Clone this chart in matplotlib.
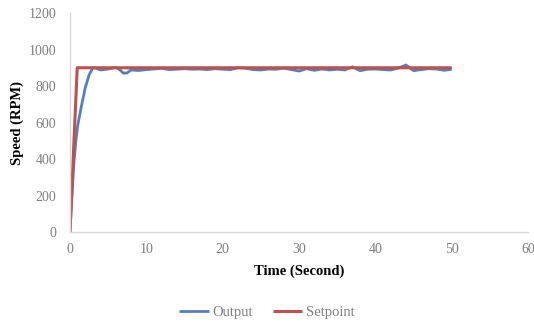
import matplotlib
matplotlib.use("Agg")
import matplotlib.pyplot as plt

time_output = [0, 0.25, 0.5, 0.75, 1, 1.5, 2, 2.5, 3, 3.5, 4, 5, 6, 6.5, 7, 7.5, 8, 9,
               10, 11, 12, 13, 14, 15, 16, 17, 18, 19, 20, 21, 22, 23, 24, 25, 26, 27, 28, 29,
               30, 31, 32, 33, 34, 35, 36, 37, 38, 39, 40, 41, 42, 43, 44, 45, 46, 47, 48, 49, 50]
output = [0, 190, 370, 490, 580, 690, 790, 860, 900, 897, 888, 893, 902, 890, 870, 872, 888, 885,
          890, 893, 897, 890, 892, 895, 892, 893, 890, 895, 892, 890, 900, 897, 890, 888, 893, 892, 898, 890,
          882, 895, 886, 893, 888, 892, 888, 905, 884, 892, 893, 890, 888, 898, 915, 884, 890, 895, 893, 886, 892]

time_setpoint = [0, 0.95, 50]
setpoint = [0, 900, 900]

x_ticks = [0, 10, 20, 30, 40, 50, 60]
y_ticks = [0, 200, 400, 600, 800, 1000, 1200]

fig = plt.figure(figsize=(5.34, 3.25), dpi=100)
ax = fig.add_axes([0.131, 0.286, 0.858, 0.674])

ax.plot(time_output, output, color="#4F81BD", lw=2.0, label="Output", solid_capstyle="butt")
ax.plot(time_setpoint, setpoint, color="#C0504D", lw=2.2, label="Setpoint", solid_capstyle="butt")

ax.set_xlim(0, 60)
ax.set_ylim(0, 1200)
ax.set_xticks(x_ticks)
ax.set_yticks(y_ticks)
ax.tick_params(length=0, labelsize=10, labelcolor="#7f7f7f")
ax.tick_params(axis="y", pad=10)
ax.tick_params(axis="x", pad=8)
for lab in ax.get_xticklabels() + ax.get_yticklabels():
    lab.set_family("Liberation Serif")

for s in ["top", "right"]:
    ax.spines[s].set_visible(False)
for s in ["left", "bottom"]:
    ax.spines[s].set_color("#d9d9d9")
    ax.spines[s].set_linewidth(1.0)

ax.set_xlabel("Time (Second)", family="Liberation Serif", fontweight="bold", fontsize=10.5)
ax.set_ylabel("Speed (RPM)", family="Liberation Serif", fontweight="bold", fontsize=10.5)
ax.xaxis.set_label_coords(0.5, -0.150)
ax.yaxis.set_label_coords(-0.100, 0.5)

leg = fig.legend(loc="center", bbox_to_anchor=(0.5, 0.04), ncol=2, frameon=False,
                 prop={"family": "Liberation Serif", "size": 10.5}, handlelength=2.0,
                 columnspacing=1.4, handletextpad=0.25)
for t in leg.get_texts():
    t.set_color("#7f7f7f")

fig.savefig("out.png", dpi=100)
